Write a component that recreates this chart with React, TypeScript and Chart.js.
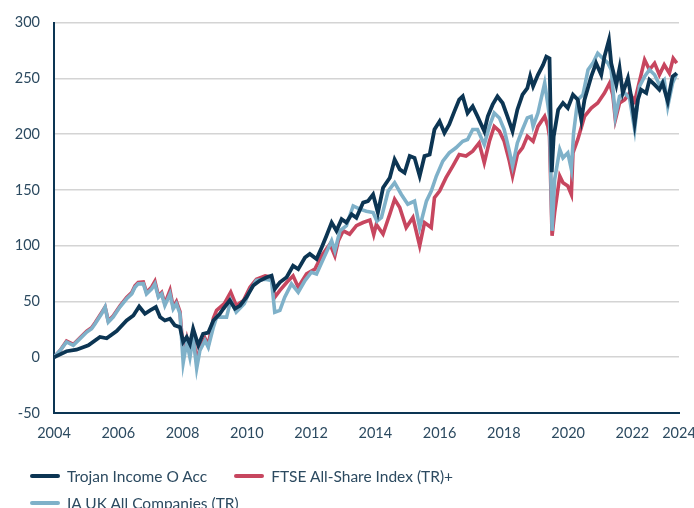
import React, { useEffect, useRef } from "react";
import { Chart, registerables } from "chart.js";

Chart.register(...registerables);

const seriesNames = ["Trojan Income O Acc", "FTSE All-Share Index (TR)+", "IA UK All Companies (TR)"];
const seriesColors = ["#0c3553", "#c7465f", "#7fb1c9"];

// Trojan Income O Acc (cumulative %, axis year positions)
const trojanDates = [
  2004.0, 2004.39, 2004.7, 2005.07, 2005.43, 2005.64, 2005.95, 2006.26, 2006.47, 2006.65,
  2006.83, 2006.99, 2007.17, 2007.3, 2007.45, 2007.61, 2007.76, 2007.92, 2008.02, 2008.13,
  2008.23, 2008.33, 2008.49, 2008.64, 2008.8, 2008.96, 2009.16, 2009.27, 2009.47, 2009.63,
  2009.79, 2009.99, 2010.2, 2010.41, 2010.62, 2010.77, 2010.87, 2011.03, 2011.24, 2011.44,
  2011.6, 2011.81, 2011.96, 2012.17, 2012.33, 2012.48, 2012.64, 2012.79, 2012.95, 2013.1,
  2013.26, 2013.41, 2013.62, 2013.77, 2013.93, 2014.08, 2014.24, 2014.45, 2014.6, 2014.76,
  2014.91, 2015.07, 2015.22, 2015.38, 2015.53, 2015.69, 2015.84, 2016.0, 2016.15, 2016.3,
  2016.46, 2016.61, 2016.72, 2016.87, 2017.03, 2017.18, 2017.39, 2017.5, 2017.65, 2017.8,
  2017.96, 2018.11, 2018.27, 2018.42, 2018.58, 2018.73, 2018.82, 2018.91, 2019.06, 2019.22,
  2019.32, 2019.42, 2019.49, 2019.55, 2019.69, 2019.84, 2019.99, 2020.15, 2020.3, 2020.41,
  2020.51, 2020.72, 2020.87, 2021.03, 2021.13, 2021.27, 2021.34, 2021.5, 2021.6, 2021.7,
  2021.86, 2021.96, 2022.07, 2022.17, 2022.27, 2022.43, 2022.53, 2022.69, 2022.84, 2022.94,
  2023.1, 2023.25, 2023.38,
];
const trojanValues = [
  0, 5.4, 6.8, 10.7, 18.2, 17, 23.5, 33, 37.5, 45.5,
  39, 42, 45, 36, 33, 34.5, 28.6, 27, 13.7, 18,
  12, 25.6, 10.7, 21, 22, 33, 39, 43.5, 51, 43.5,
  46.4, 53.8, 64.3, 68.8, 71.7, 73.2, 61.3, 67.2, 71.7, 82,
  79, 89.5, 92.6, 88, 98.5, 109, 120.8, 113.4, 123.8, 120.8,
  128.3, 125, 138.7, 140, 146, 129.7, 152, 161, 177.4, 168.5,
  165.5, 180.4, 178.8, 162.5, 180.4, 181.8, 204.2, 211.6, 201.2, 208.7,
  220.5, 231, 234, 219, 225, 216, 202.7, 216, 226.5, 234,
  228, 216, 202.7, 222, 235.4, 241.3, 252, 243, 253.3, 262.2,
  269.6, 268, 166, 198, 222, 228, 223.5, 235.4, 231, 213,
  231, 251.8, 263.7, 253.3, 269.6, 284.5, 263.7, 244.4, 259.2, 236.9,
  250.3, 234, 210, 231, 239.9, 236.9, 248.8, 244.4, 239.9, 245.8,
  229.5, 251.8, 254.7,
];

// FTSE All-Share Index (TR)+
const ftseDates = [
  2004.0, 2004.19, 2004.39, 2004.6, 2004.81, 2005.02, 2005.17, 2005.28, 2005.48, 2005.59,
  2005.69, 2005.84, 2006.05, 2006.26, 2006.42, 2006.52, 2006.62, 2006.78, 2006.88, 2007.04,
  2007.14, 2007.25, 2007.35, 2007.45, 2007.61, 2007.71, 2007.81, 2007.92, 2008.02, 2008.13,
  2008.23, 2008.33, 2008.44, 2008.54, 2008.7, 2008.8, 2008.96, 2009.06, 2009.3, 2009.5,
  2009.67, 2009.9, 2010.1, 2010.3, 2010.57, 2010.77, 2010.87, 2011.03, 2011.24, 2011.44,
  2011.6, 2011.86, 2012.12, 2012.33, 2012.59, 2012.74, 2012.85, 2013.0, 2013.2, 2013.41,
  2013.62, 2013.83, 2013.95, 2014.03, 2014.24, 2014.45, 2014.6, 2014.76, 2014.96, 2015.17,
  2015.38, 2015.53, 2015.74, 2015.84, 2016.0, 2016.2, 2016.41, 2016.61, 2016.82, 2017.03,
  2017.23, 2017.39, 2017.55, 2017.7, 2017.86, 2018.01, 2018.17, 2018.27, 2018.42, 2018.58,
  2018.73, 2018.91, 2019.06, 2019.27, 2019.37, 2019.42, 2019.5, 2019.58, 2019.74, 2019.84,
  2019.99, 2020.1, 2020.15, 2020.3, 2020.51, 2020.72, 2020.92, 2021.13, 2021.29, 2021.39,
  2021.47, 2021.6, 2021.76, 2021.91, 2022.07, 2022.22, 2022.38, 2022.53, 2022.69, 2022.84,
  2022.99, 2023.15, 2023.27, 2023.38,
];
const ftseValues = [
  0, 6, 14.5, 11.5, 17.5, 23.5, 26.5, 31, 40, 45,
  32.5, 37, 46, 53.5, 58, 64, 67, 67.5, 58, 63,
  68, 55, 58, 48, 60, 45, 50, 41, 4.7, 17,
  4, 20, -4, 8, 17, 11, 35, 42, 48, 58.3,
  46.4, 51, 62.8, 70, 73, 71.7, 53.8, 60, 67, 73,
  62.8, 74.7, 79, 91, 101.5, 91, 104.5, 113.4, 110.4, 118,
  120.8, 123, 110, 119, 110.4, 128.3, 141.7, 134.2, 116.3, 125.3,
  100, 120.8, 116.3, 143.1, 149, 161, 171.4, 181.8, 180.4, 184.8,
  192.2, 174.4, 193.7, 207, 202.7, 193.7, 175.9, 162.5, 181.8, 187.8,
  198.2, 193.7, 207, 216, 207, 198, 109, 129.7, 162.5, 156.5,
  153.6, 146, 183.3, 195.3, 216, 223.5, 228, 236.9, 245.8, 235.4,
  213, 228, 231, 236.9, 229.5, 247.3, 266.7, 257.8, 263.7, 253.3,
  262.2, 254.7, 268, 263.7,
];

// IA UK All Companies (TR)
const iaDates = [
  2004.0, 2004.19, 2004.39, 2004.6, 2004.81, 2005.02, 2005.17, 2005.28, 2005.48, 2005.59,
  2005.69, 2005.84, 2006.05, 2006.26, 2006.42, 2006.52, 2006.62, 2006.78, 2006.88, 2007.04,
  2007.14, 2007.25, 2007.35, 2007.45, 2007.61, 2007.71, 2007.81, 2007.92, 2008.02, 2008.13,
  2008.23, 2008.33, 2008.44, 2008.54, 2008.7, 2008.8, 2008.96, 2009.06, 2009.37, 2009.5,
  2009.67, 2009.92, 2010.1, 2010.3, 2010.57, 2010.77, 2010.87, 2011.03, 2011.18, 2011.39,
  2011.6, 2011.81, 2012.01, 2012.17, 2012.38, 2012.64, 2012.74, 2012.9, 2013.1, 2013.31,
  2013.52, 2013.72, 2013.93, 2014.05, 2014.19, 2014.4, 2014.6, 2014.81, 2015.01, 2015.22,
  2015.38, 2015.59, 2015.74, 2015.9, 2016.1, 2016.3, 2016.51, 2016.72, 2016.87, 2017.03,
  2017.18, 2017.39, 2017.55, 2017.7, 2017.86, 2018.01, 2018.17, 2018.27, 2018.42, 2018.58,
  2018.73, 2018.85, 2018.91, 2019.06, 2019.27, 2019.37, 2019.42, 2019.5, 2019.58, 2019.74,
  2019.84, 2019.99, 2020.1, 2020.17, 2020.3, 2020.46, 2020.62, 2020.77, 2020.92, 2021.08,
  2021.24, 2021.34, 2021.47, 2021.6, 2021.76, 2021.91, 2022.07, 2022.22, 2022.38, 2022.53,
  2022.69, 2022.84, 2022.99, 2023.1, 2023.25, 2023.38,
];
const iaValues = [
  0, 6, 13.7, 10.7, 16.7, 22.6, 25.6, 30, 39, 45,
  31.5, 36, 45, 52.4, 56.8, 62.8, 65.8, 66, 56.8, 61.3,
  65.8, 53.8, 56.8, 46.4, 56.8, 43.5, 48, 39, -5, 13.7,
  0, 18, -10, 6, 15, 9, 27, 36, 36, 51,
  40.4, 48, 60, 68.8, 70, 68.8, 40.4, 42, 53.8, 65.8,
  58.3, 68.8, 76.2, 74.7, 88, 104.5, 95.5, 113.4, 118, 135.7,
  132.8, 131, 129.7, 122, 125.3, 149, 156.5, 146, 137.2, 140,
  116.3, 140, 149, 162.5, 175.9, 183.3, 187.8, 193.7, 195.3, 204.2,
  204.2, 190.8, 207, 219, 214.6, 204.2, 184.8, 171.4, 192.2, 204.2,
  214.6, 216, 207, 219, 245.8, 226.5, 216, 113.4, 159.5, 186.3,
  178.8, 183.3, 168.5, 201.2, 231, 235.4, 257.8, 263.7, 272.6, 268,
  263.7, 257.8, 216, 234, 236.9, 232.5, 204.2, 242.9, 251.8, 257.8,
  253.3, 244.4, 248.8, 225, 245.8, 254.7,
];

const xTickValues = [2004, 2006, 2008, 2010, 2012, 2014, 2016, 2018, 2020, 2022, 2023.45];
const xTickLabels = ["2004", "2006", "2008", "2010", "2012", "2014", "2016", "2018", "2020", "2022", "2024"];
const yMin = -50;
const yMax = 300;
const yStep = 50;

const AXIS_COLOR = "#0c3553";
const TEXT_COLOR = "#2c4a60";
const GRID_COLOR = "#d4d4d4";
const FONT = "Lato, 'Open Sans', sans-serif";

function toPoints(xs: number[], ys: number[]) {
  return xs.map((x, i) => ({ x, y: ys[i] }));
}

export default function App() {
  const canvasRef = useRef<HTMLCanvasElement | null>(null);

  useEffect(() => {
    if (!canvasRef.current) return;
    const chart = new Chart(canvasRef.current, {
      type: "line",
      data: {
        datasets: [
          {
            label: seriesNames[0],
            data: toPoints(trojanDates, trojanValues),
            borderColor: seriesColors[0],
            backgroundColor: seriesColors[0],
            borderWidth: 3.8,
            pointRadius: 0,
            tension: 0,
            order: 0,
          },
          {
            label: seriesNames[2],
            data: toPoints(iaDates, iaValues),
            borderColor: seriesColors[2],
            backgroundColor: seriesColors[2],
            borderWidth: 3.6,
            pointRadius: 0,
            tension: 0,
            order: 1,
          },
          {
            label: seriesNames[1],
            data: toPoints(ftseDates, ftseValues),
            borderColor: seriesColors[1],
            backgroundColor: seriesColors[1],
            borderWidth: 3.6,
            pointRadius: 0,
            tension: 0,
            order: 2,
          },
        ],
      },
      options: {
        animation: false,
        responsive: false,
        layout: { padding: { top: 21, right: 0, left: 0, bottom: 0 } },
        plugins: { legend: { display: false }, tooltip: { enabled: false } },
        scales: {
          x: {
            type: "linear",
            min: xTickValues[0],
            max: xTickValues[xTickValues.length - 1],
            grid: { display: false, drawTicks: false },
            border: { display: true, color: AXIS_COLOR, width: 2 },
            ticks: {
              autoSkip: false,
              maxRotation: 0,
              padding: 12,
              color: TEXT_COLOR,
              font: { family: FONT, size: 14.5 },
              callback: (_v: any, i: number) => xTickLabels[i],
            },
            afterBuildTicks: (s: any) => {
              s.ticks = xTickValues.map((v) => ({ value: v }));
            },
            afterFit: (s: any) => {
              s.height = 95;
              s.paddingRight = 15;
              s.paddingLeft = 0;
            },
          },
          y: {
            min: yMin,
            max: yMax,
            ticks: {
              stepSize: yStep,
              padding: 14,
              color: TEXT_COLOR,
              font: { family: FONT, size: 14.5 },
            },
            grid: {
              drawTicks: false,
              lineWidth: 1.5,
              color: (ctx: any) => (ctx.tick && ctx.tick.value === yMin ? "rgba(0,0,0,0)" : GRID_COLOR),
            },
            border: { display: true, color: AXIS_COLOR, width: 2 },
            afterFit: (s: any) => {
              s.width = 54;
            },
          },
        },
      },
    } as any);
    return () => chart.destroy();
  }, []);

  return (
    <div style={{ position: "absolute", left: 0, top: 0, width: 694, height: 508, overflow: "hidden", background: "#fff" }}>
      <canvas ref={canvasRef} width={694} height={508} style={{ display: "block" }} />
      <div
        style={{
          position: "absolute",
          left: 30,
          top: 466,
          width: 470,
          display: "flex",
          flexWrap: "wrap",
          columnGap: 27,
          rowGap: 7,
          fontFamily: FONT,
          fontSize: 15.5,
          lineHeight: "20px",
          color: TEXT_COLOR,
        }}
      >
        {seriesNames.map((name, i) => (
          <div key={name} style={{ display: "flex", alignItems: "center", whiteSpace: "nowrap" }}>
            <span
              style={{
                display: "inline-block",
                width: 30,
                height: 4.5,
                borderRadius: 2.5,
                background: seriesColors[i],
                marginRight: 7,
              }}
            />
            <span>{name}</span>
          </div>
        ))}
      </div>
    </div>
  );
}
